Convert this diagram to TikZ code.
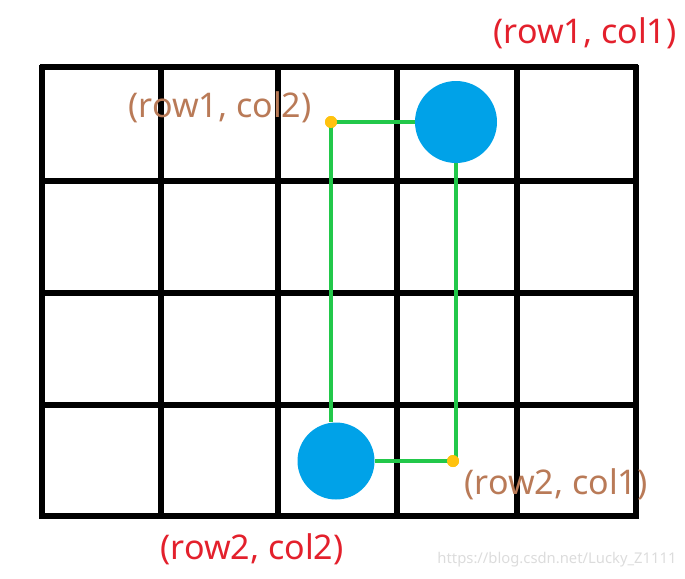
\documentclass[tikz,border=0pt]{standalone}
\usepackage{fontspec}
\setmainfont{Noto Sans}
\definecolor{cblue}{HTML}{00A2E8}
\definecolor{cgreen}{HTML}{22C84A}
\definecolor{cgold}{HTML}{FFC20E}
\definecolor{cred}{HTML}{E3202C}
\definecolor{cbrown}{HTML}{B97A57}
\definecolor{cwm}{HTML}{DCDCDC}
\begin{document}
\begin{tikzpicture}[x=1pt,y=-1pt,
  gridline/.style={line width=5.5pt,black},
  ball/.style={circle,fill=cblue,inner sep=0pt},
  dot/.style={circle,fill=cgold,inner sep=0pt,minimum size=12pt},
  link/.style={cgreen,line width=3.2pt},
  redlabel/.style={text=cred,font=\fontsize{34}{40}\selectfont,inner sep=0pt},
  brownlabel/.style={text=cbrown,font=\fontsize{34}{40}\selectfont,inner sep=0pt},
  wm/.style={text=cwm,font=\fontsize{14.8}{17}\selectfont,inner sep=0pt}]
\useasboundingbox (0,0) rectangle (685,578);
% grid
\foreach \y in {67,181,293,405,516} \draw[gridline] (40,\y) -- (638,\y);
\foreach \x in {42,161,278,397,517,636} \draw[gridline] (\x,65) -- (\x,519);
% labels
\node[redlabel] (l11) at (585,33) {(row1, col1)};
\node[brownlabel] (l12) at (220,107) {(row1, col2)};
\node[brownlabel] (l21) at (556,484) {(row2, col1)};
\node[redlabel] (l22) at (252,549) {(row2, col2)};
\node[wm] (wm) at (557,560) {https://blog.csdn.net/Lucky\_Z1111};
% balls and dots
\node[ball,minimum size=82pt] (b1) at (456,122) {};
\node[ball,minimum size=77pt] (b2) at (336,461) {};
\node[dot] (d1) at (331,122) {};
\node[dot] (d2) at (453,461) {};
% connectors
\draw[link] (d1.center) -- (b1.west);
\draw[link] (d1.center) -- (d1.center |- b2.north);
\draw[link] (b1.south) -- (b1.south |- d2.center) -- (d2.center);
\draw[link] (b2.east) -- (d2.center);
\node[dot] at (d1.center) {};
\node[dot] at (d2.center) {};
\end{tikzpicture}
\end{document}
